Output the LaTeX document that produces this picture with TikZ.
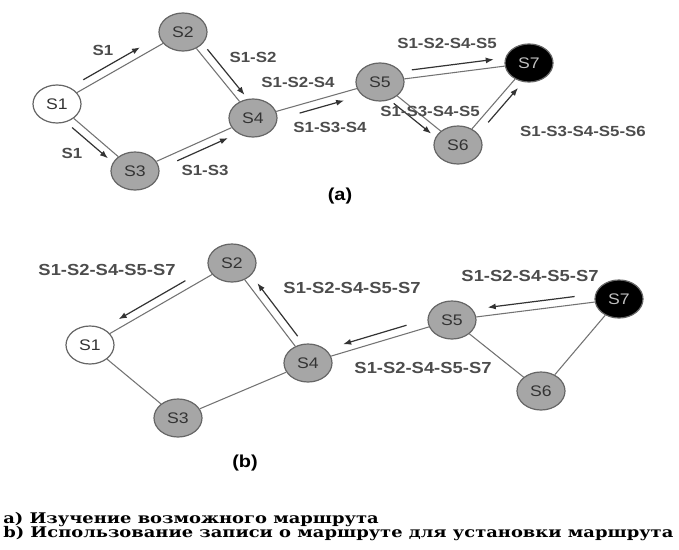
\documentclass[tikz,border=0pt]{standalone}
\usepackage{fontspec}
\setmainfont{Liberation Sans}[FakeStretch=1.15]
\newfontfamily\capfont{DejaVu Serif}[FakeStretch=1.22]
\usetikzlibrary{shapes.geometric,arrows.meta,calc}

\tikzset{
  station/.style={ellipse, draw=black!60, line width=0.9pt, fill=black!35,
    minimum width=36pt, minimum height=28.5pt, inner sep=0pt,
    text=black!80, font=\fontsize{11.5}{12}\selectfont},
  origin/.style={station, fill=white},
  target/.style={station, fill=black, text=black!25},
  link/.style={draw=black!55, line width=0.8pt},
  routearr/.style={draw=black!80, line width=0.9pt, -{Latex[length=6pt,width=4.5pt]}},
  tag/.style={text=black!70, font=\fontsize{11}{12}\selectfont\bfseries},
  tagb/.style={text=black!70, font=\fontsize{12}{13}\selectfont\bfseries},
  legend/.style={anchor=base west, inner sep=0pt, font=\capfont\bfseries\fontsize{11}{12}\selectfont}
}

% route arrow beside a link: from, to, start, end, side
\newcommand{\hop}[5]{\draw[routearr] ($(#1)!#3!(#2)!6pt!#5:(#2)$) -- ($(#1)!#4!(#2)!6pt!#5:(#2)$);}

\begin{document}
\begin{tikzpicture}[x=0.75pt,y=-0.75pt]
\useasboundingbox (0,0) rectangle (679,550);

% (a) route discovery
\node[origin] (a1) at (57,104) {S1};
\node[station] (a2) at (183,32) {S2};
\node[station] (a3) at (135,171) {S3};
\node[station] (a4) at (253,118) {S4};
\node[station] (a5) at (380,82) {S5};
\node[station] (a6) at (458,145) {S6};
\node[target] (a7) at (529,63) {S7};
\draw[link] (a1) -- (a2) (a1) -- (a3) (a2) -- (a4) (a3) -- (a4)
  (a4) -- (a5) (a5) -- (a7) (a5) -- (a6) (a6) -- (a7);
\hop{a1}{a2}{0.24}{0.69}{90}
\hop{a2}{a4}{0.26}{0.79}{90}
\hop{a1}{a3}{0.26}{0.72}{-90}
\hop{a3}{a4}{0.33}{0.76}{-90}
\hop{a4}{a5}{0.35}{0.70}{-90}
\hop{a5}{a7}{0.22}{0.77}{90}
\hop{a5}{a6}{0.24}{0.72}{-90}
\hop{a6}{a7}{0.34}{0.76}{-90}
\node[tag] (ta12) at (103,50) {S1};
\node[tag] (ta13) at (72,153) {S1};
\node[tag] (ta24) at (253,57) {S1-S2};
\node[tag] (ta34) at (205,170) {S1-S3};
\node[tag] (ta45) at (298,82) {S1-S2-S4};
\node[tag] (ta45b) at (330,127) {S1-S3-S4};
\node[tag] (ta57) at (447,43) {S1-S2-S4-S5};
\node[tag] (ta56) at (430,111) {S1-S3-S4-S5};
\node[tag] (ta67) at (583,131) {S1-S3-S4-S5-S6};
\node[font=\fontsize{13}{14}\selectfont\bfseries] (capa) at (340,196) {(a)};

% (b) route reply
\node[origin] (b1) at (90,345) {S1};
\node[station] (b2) at (232,263) {S2};
\node[station] (b3) at (178,418) {S3};
\node[station] (b4) at (308,363) {S4};
\node[station] (b5) at (452,320) {S5};
\node[station] (b6) at (541,391) {S6};
\node[target] (b7) at (619,299) {S7};
\draw[link] (b1) -- (b2) (b1) -- (b3) (b2) -- (b4) (b3) -- (b4)
  (b4) -- (b5) (b5) -- (b7) (b5) -- (b6) (b6) -- (b7);
\hop{b7}{b5}{0.26}{0.78}{-90}
\hop{b5}{b4}{0.30}{0.74}{-90}
\hop{b4}{b2}{0.22}{0.75}{-90}
\hop{b2}{b1}{0.30}{0.77}{-90}
\node[tagb] (tb21) at (107,270) {S1-S2-S4-S5-S7};
\node[tagb] (tb42) at (352,288) {S1-S2-S4-S5-S7};
\node[tagb] (tb75) at (530,276) {S1-S2-S4-S5-S7};
\node[tagb] (tb54) at (423,368) {S1-S2-S4-S5-S7};
\node[font=\fontsize{13}{14}\selectfont\bfseries] (capb) at (245,463) {(b)};

% legend
\node[legend] (leg1) at (3,523) {a) Изучение возможного маршрута};
\node[legend] (leg2) at (3,537) {b) Использование записи о маршруте для установки маршрута};
\end{tikzpicture}
\end{document}
